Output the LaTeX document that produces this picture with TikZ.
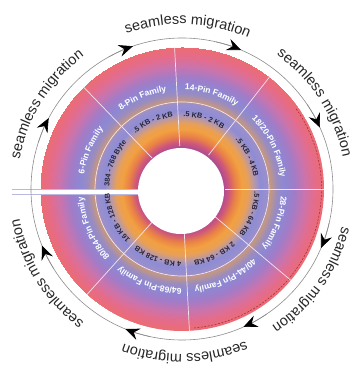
\documentclass[tikz,border=0pt]{standalone}
\usepackage{fontspec}
\setmainfont{Liberation Sans}
\usetikzlibrary{decorations.text,arrows.meta}
\definecolor{s01}{HTML}{EC6C72}
\definecolor{s02}{HTML}{E46C8C}
\definecolor{s03}{HTML}{C874AE}
\definecolor{s04}{HTML}{A07CC8}
\definecolor{s05}{HTML}{8C88D4}
\definecolor{s06}{HTML}{9A8CC0}
\definecolor{s07}{HTML}{C8987A}
\definecolor{s08}{HTML}{9C90C8}
\definecolor{s09}{HTML}{8E8CD6}
\definecolor{s10}{HTML}{B898A8}
\definecolor{s11}{HTML}{E8A058}
\definecolor{s12}{HTML}{F2A040}
\definecolor{s13}{HTML}{E88048}
\definecolor{s14}{HTML}{D05878}
\definecolor{s15}{HTML}{B04C90}
\definecolor{inktext}{HTML}{262638}
\definecolor{spoke}{HTML}{F4E4EC}
\definecolor{barline}{HTML}{B8B8E0}
\definecolor{dashred}{HTML}{A02838}
\pgfdeclareradialshading{ringshade}{\pgfpoint{0pt}{0pt}}{%
color(0pt)=(s15); color(42pt)=(s15); color(47pt)=(s14); color(53pt)=(s13);
color(60pt)=(s12); color(66pt)=(s11); color(72pt)=(s10); color(78pt)=(s09);
color(86.5pt)=(s08); color(87.5pt)=(s07); color(95pt)=(s06); color(102pt)=(s05);
color(112pt)=(s04); color(122pt)=(s03); color(132pt)=(s02); color(142pt)=(s01)}
\tikzset{
  seclab/.style={decorate, decoration={text along path, text align=center,
     text={|\bfseries\fontsize{8.5}{8.5}\selectfont\color{white}|#1}}},
  innlab/.style={decorate, decoration={text along path, text align=center,
     text={|\bfseries\fontsize{7.3}{7.3}\selectfont\color{inktext}|#1}}},
  migrlab/.style={decorate, decoration={text along path, text align=center,
     text={|\fontsize{14.5}{14.5}\selectfont\color{black!85}|#1}}},
  spokeline/.style={spoke, line width=0.7pt},
  ringarrow/.style={draw=black!45, line width=0.6pt,
     -{Stealth[length=14pt,width=12pt,inset=5pt,color=black]}},
}
\newcommand\arclabel[4]{% style, centre angle, radius, text
  \path[#1={#4}] (C) ++({#2+45}:#3) arc[start angle={#2+45}, end angle={#2-45}, radius=#3];}
\newcommand\ringarrowat[1]{%
  \draw[ringarrow] (C) ++({#1+10}:151) arc[start angle={#1+10}, end angle={#1}, radius=151];}
\begin{document}
\begin{tikzpicture}[x=1pt,y=1pt]
\useasboundingbox (0,0) rectangle (354,374);
\coordinate (C) at (182,185);
\coordinate (Ci) at (181,183);
% shaded ring
\begin{scope}
  \clip (C) circle[radius=142];
  \node[inner sep=0pt, outer sep=0pt] (shade) at (C) {\pgfuseshading{ringshade}};
\end{scope}
% dashed edge on the right
\draw[dashred, line width=0.5pt, dash pattern=on 2pt off 1.5pt] (C) ++(35:139.5) arc[start angle=35, end angle=-85, radius=139.5];
% divider circle
\draw[spoke, line width=0.7pt] (C) circle[radius=87];
% spokes
\foreach \a in {134,93,52,0,-40,-87,-132}
  {\draw[spokeline] (C) ++(\a:43) -- ++(\a:99);}
% white bar on the left
\fill[white] (12,179.5) rectangle (150,184.5);
\draw[barline, line width=0.7pt] (12,184.5) -- (140,184.5) (12,179.5) -- (140,179.5);
% inner white disc
\fill[white] (Ci) circle[radius=43];
% sector labels
\arclabel{seclab}{157}{99}{6-Pin Family}
\arclabel{seclab}{113.5}{99}{8-Pin Family}
\arclabel{seclab}{72.5}{99}{14-Pin Family}
\arclabel{seclab}{26}{99}{18/20-Pin Family}
\arclabel{seclab}{-20}{99}{28-Pin Family}
\arclabel{seclab}{-63.5}{99}{40/44-Pin Family}
\arclabel{seclab}{-109.5}{99}{64/68-Pin Family}
\arclabel{seclab}{-156}{99}{80/84-Pin Family}
% inner labels
\arclabel{innlab}{159}{72.5}{384 - 768 Byte}
\arclabel{innlab}{113.5}{72.5}{.5 KB - 2 KB}
\arclabel{innlab}{72.5}{72.5}{.5 KB - 2 KB}
\arclabel{innlab}{26}{72.5}{.5 KB - 4 KB}
\arclabel{innlab}{-20}{72.5}{.5 KB - 64 KB}
\arclabel{innlab}{-63.5}{72.5}{2 KB - 64 KB}
\arclabel{innlab}{-109.5}{72.5}{4 KB - 128 KB}
\arclabel{innlab}{-156}{72.5}{16 KB - 128 KB}
% outer grey circle
\draw[black!45, line width=0.6pt] (C) circle[radius=151];
% arrowheads (clockwise)
\foreach \a in {109,67,24,-23,-66,-112,-158,152}
  {\ringarrowat{\a}}
% seamless migration labels
\arclabel{migrlab}{88}{165}{seamless migration}
\arclabel{migrlab}{33}{164}{seamless migration}
\arclabel{migrlab}{-35}{164}{seamless migration}
\arclabel{migrlab}{-89}{165}{seamless migration}
\arclabel{migrlab}{-148}{165}{seamless migration}
\arclabel{migrlab}{148}{165}{seamless migration}
\end{tikzpicture}
\end{document}
